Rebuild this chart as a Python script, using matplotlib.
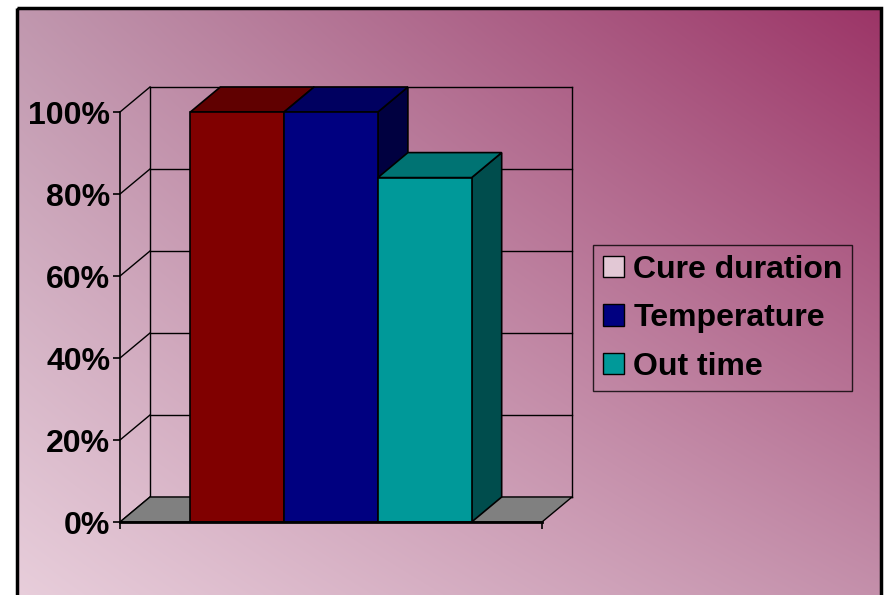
import numpy as np
import matplotlib
matplotlib.use('Agg')
import matplotlib.pyplot as plt
from matplotlib.patches import Rectangle, Polygon, Patch
from matplotlib.font_manager import FontProperties

# data
series = ['Cure duration', 'Temperature', 'Out time']
values = [100, 100, 84]
front_colors = ['#800000', '#000080', '#009999']
top_colors = ['#600000', '#000060', '#007373']
side_colors = ['#400000', '#000040', '#004d4d']
legend_colors = ['#e2c8d5', '#000080', '#009999']
yticks = [0, 20, 40, 60, 80, 100]

W, H = 884, 595
fig = plt.figure(figsize=(W / 100, H / 100), dpi=100)
fig.patch.set_facecolor('white')

# background gradient inside the frame
bg = fig.add_axes([0, 0, 1, 1])
bg.set_axis_off()
bg.set_xlim(0, W)
bg.set_ylim(H, 0)
tl = np.array([192, 151, 174]) / 255
tr = np.array([156, 53, 103]) / 255
bl = np.array([232, 206, 219]) / 255
br = np.array([196, 144, 171]) / 255
u = np.linspace(0, 1, 200)[None, :, None]
v = np.linspace(0, 1, 150)[:, None, None]
grad = (1 - v) * ((1 - u) * tl + u * tr) + v * ((1 - u) * bl + u * br)
bg.imshow(grad, extent=(17, 881, 600, 8), aspect='auto', interpolation='bilinear')
bg.add_patch(Rectangle((17, 8), 864, 600, fill=False, lw=2.5, ec='black'))

# main axes = front plane of the 3D box
ax = fig.add_axes([120 / W, 73 / H, 422 / W, 410 / H])
ax.patch.set_visible(False)
ax.set_xlim(0, 1)
ax.set_ylim(0, 100)
for s in ['top', 'right']:
    ax.spines[s].set_visible(False)
ax.spines['left'].set_linewidth(1.2)
ax.spines['bottom'].set_linewidth(2)
ax.spines['left'].set_zorder(20)
ax.spines['bottom'].set_zorder(20)

bold = FontProperties(family='Liberation Sans', weight='bold', size=23)
ax.set_yticks(yticks)
ax.set_yticklabels(['%d%%' % t for t in yticks], fontproperties=bold)
ax.set_xticks([0, 1])
ax.set_xticklabels([])
ax.tick_params(direction='out', length=5, width=1.2, pad=2)

DX = 30 / 422
DY = 25 / 410 * 100

# walls and gridlines
for t in yticks:
    ax.plot([0, DX], [t, t + DY], color='black', lw=1, clip_on=False, zorder=1)
    ax.plot([DX, 1 + DX], [t + DY, t + DY], color='black', lw=1, clip_on=False, zorder=1)
for xx in [DX, 1 + DX]:
    ax.plot([xx, xx], [DY, 100 + DY], color='black', lw=1, clip_on=False, zorder=1)

# floor
ax.add_patch(Polygon([(0, 0), (1, 0), (1 + DX, DY), (DX, DY)], closed=True,
                     fc='#808080', ec='black', lw=1, clip_on=False, zorder=2))

# bars
n = len(values)
w = 1 / (n + 1.5)
gap = 0.75 * w
for i, val in enumerate(values):
    x0 = gap + i * w
    z = 5 + i
    ax.add_patch(Polygon([(x0 + w, 0), (x0 + w + DX, DY), (x0 + w + DX, val + DY), (x0 + w, val)],
                         closed=True, fc=side_colors[i], ec='black', lw=1.2, clip_on=False, zorder=z))
    ax.add_patch(Polygon([(x0, val), (x0 + w, val), (x0 + w + DX, val + DY), (x0 + DX, val + DY)],
                         closed=True, fc=top_colors[i], ec='black', lw=1.2, clip_on=False, zorder=z))
    ax.add_patch(Rectangle((x0, 0), w, val, fc=front_colors[i], ec='black', lw=1.2,
                           clip_on=False, zorder=z))

# legend
handles = [Patch(fc=c, ec='black', lw=1) for c in legend_colors]
leg = fig.legend(handles, series, loc='upper left',
                 bbox_to_anchor=(593 / W, 1 - 245 / H), prop=bold,
                 frameon=True, fancybox=False, edgecolor='black', facecolor='none',
                 handlelength=0.66, handleheight=0.66, handletextpad=0.3,
                 borderpad=0.3, labelspacing=0.58, borderaxespad=0)
leg.get_frame().set_linewidth(1)

fig.savefig('out.png', dpi=100)
